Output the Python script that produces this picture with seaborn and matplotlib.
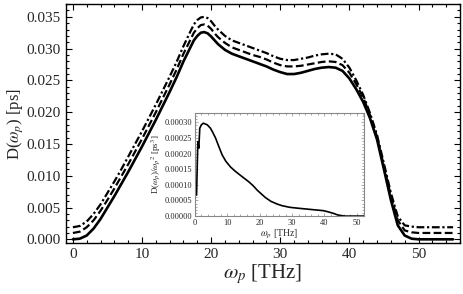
import numpy as np
import pandas as pd
import matplotlib
matplotlib.use("Agg")
import matplotlib.pyplot as plt
from matplotlib.ticker import MultipleLocator
import seaborn as sns

# frequencias (THz)
omega = [0, 1, 2, 3, 4, 5, 6, 7, 8, 9, 10, 11, 12, 13, 14, 15, 16, 17, 17.5, 18, 18.5,
         19, 19.5, 20, 20.5, 21, 22, 23, 24, 25, 26, 27, 28, 29, 30, 31, 32, 33, 34, 35,
         36, 37, 38, 39, 40, 41, 42, 43, 44, 45, 46, 47, 48, 49, 50, 55]

# D(omega) para as tres curvas
d_solid = [0.0000, 0.0001, 0.0006, 0.0017, 0.0032, 0.0050, 0.0068, 0.0087, 0.0106, 0.0126,
           0.0146, 0.0167, 0.0188, 0.0210, 0.0232, 0.0255, 0.0280, 0.0302, 0.0313, 0.0320,
           0.0325, 0.0326, 0.0324, 0.0319, 0.0313, 0.0307, 0.0298, 0.0292, 0.0288, 0.0284,
           0.0280, 0.0276, 0.0272, 0.0267, 0.0263, 0.0260, 0.0260, 0.0262, 0.0265, 0.0268,
           0.0270, 0.0271, 0.0270, 0.0265, 0.0253, 0.0236, 0.0216, 0.0190, 0.0157, 0.0110,
           0.0062, 0.0022, 0.0006, 0.0001, 0.0000, 0.0000]
d_dashed = [0.0010, 0.0012, 0.0019, 0.0030, 0.0045, 0.0062, 0.0080, 0.0099, 0.0118, 0.0138,
            0.0158, 0.0179, 0.0200, 0.0222, 0.0244, 0.0267, 0.0292, 0.0314, 0.0325, 0.0332,
            0.0337, 0.0338, 0.0336, 0.0331, 0.0324, 0.0318, 0.0309, 0.0302, 0.0298, 0.0294,
            0.0290, 0.0287, 0.0283, 0.0278, 0.0274, 0.0272, 0.0272, 0.0273, 0.0275, 0.0277,
            0.0279, 0.0280, 0.0279, 0.0274, 0.0262, 0.0244, 0.0223, 0.0195, 0.0161, 0.0115,
            0.0068, 0.0030, 0.0014, 0.0011, 0.0010, 0.0010]
d_dashdot = [0.0019, 0.0021, 0.0028, 0.0040, 0.0055, 0.0073, 0.0091, 0.0110, 0.0130, 0.0150,
             0.0170, 0.0191, 0.0212, 0.0234, 0.0256, 0.0279, 0.0304, 0.0327, 0.0338, 0.0345,
             0.0349, 0.0350, 0.0348, 0.0343, 0.0336, 0.0330, 0.0320, 0.0313, 0.0309, 0.0305,
             0.0301, 0.0297, 0.0293, 0.0288, 0.0284, 0.0282, 0.0282, 0.0284, 0.0286, 0.0289,
             0.0291, 0.0292, 0.0291, 0.0284, 0.0270, 0.0250, 0.0227, 0.0198, 0.0164, 0.0119,
             0.0073, 0.0036, 0.0022, 0.0020, 0.0019, 0.0019]

# inset: D(omega)/omega^2
omega_in = [0.5, 0.9, 1.2, 1.5, 2.0, 2.6, 3.8, 4.8, 5.5, 6.4, 7.4, 8.4, 9.5, 11.0, 12.5,
            14.1, 16.6, 18.0, 19.2, 20.5, 21.8, 23.5, 25.4, 27.0, 29.4, 32.0, 34.6, 37.0,
            39.7, 41.0, 42.8, 44.0, 45.4, 46.4, 52.0]
d_in = [0.0000673, 0.000238, 0.000217, 0.000281, 0.000292, 0.000297, 0.000292, 0.000281,
        0.000268, 0.000249, 0.000222, 0.000196, 0.000176, 0.000157, 0.000143, 0.000130,
        0.000110, 0.000097, 0.0000833, 0.000071, 0.000059, 0.000047, 0.0000385, 0.000033,
        0.0000279, 0.000025, 0.0000224, 0.000020, 0.0000173, 0.000014, 0.0000087, 0.000004,
        0.0000013, 0.0, 0.0]

sns.set_style("ticks")
plt.rcParams['font.family'] = ['Liberation Serif', 'DejaVu Serif']
plt.rcParams['mathtext.fontset'] = 'stix'
plt.rcParams['xtick.direction'] = 'in'
plt.rcParams['ytick.direction'] = 'in'

fig = plt.figure(figsize=(4.63, 2.94), dpi=100)
ax = fig.add_axes([0.1425, 0.173, 0.851, 0.813])

sns.lineplot(x=omega, y=d_solid, ax=ax, color='black', lw=1.9, linestyle='-')
sns.lineplot(x=omega, y=d_dashed, ax=ax, color='black', lw=1.6, linestyle=(0, (3.5, 1.5)))
sns.lineplot(x=omega, y=d_dashdot, ax=ax, color='black', lw=1.6,
             linestyle=(0, (3.5, 1.2, 1.0, 1.2)))

ax.set_xlim(-1, 56)
ax.set_ylim(-0.0006, 0.037)
ax.xaxis.set_major_locator(MultipleLocator(10))
ax.xaxis.set_minor_locator(MultipleLocator(2))
ax.yaxis.set_major_locator(MultipleLocator(0.005))
ax.yaxis.set_minor_locator(MultipleLocator(0.001))
ax.yaxis.set_major_formatter(plt.FuncFormatter(lambda v, p: f'{v:.3f}'))
ax.tick_params(which='both', top=True, right=True, width=0.8, color='black')
ax.tick_params(which='major', length=4, labelsize=11)
ax.tick_params(which='minor', length=2)
for s in ax.spines.values():
    s.set_linewidth(1.0)
    s.set_color('black')
ax.set_xlabel(r'$\omega_p$ [THz]', fontsize=15, labelpad=1)
ax.set_ylabel(r'D($\omega_p$) [ps]', fontsize=12, labelpad=1)

# inset
axi = fig.add_axes([0.421, 0.265, 0.365, 0.351])
sns.lineplot(x=omega_in, y=d_in, ax=axi, color='black', lw=1.2)
axi.set_xlim(0, 52.2)
axi.set_ylim(0, 0.00033)
axi.xaxis.set_major_locator(MultipleLocator(10))
axi.xaxis.set_minor_locator(MultipleLocator(2))
axi.yaxis.set_major_locator(MultipleLocator(0.00005))
axi.yaxis.set_minor_locator(MultipleLocator(0.00001))
axi.yaxis.set_major_formatter(plt.FuncFormatter(lambda v, p: f'{v:.5f}'))
axi.tick_params(which='both', top=True, right=True, width=0.5, color='#888888')
axi.tick_params(which='major', length=2.5, labelsize=6, pad=2)
axi.tick_params(which='minor', length=1.2)
for s in axi.spines.values():
    s.set_linewidth(0.8)
    s.set_color('#888888')
axi.set_xlabel(r'$\omega_p$ [THz]', fontsize=7, labelpad=1)
axi.set_ylabel(r'D($\omega_p$)/$\omega_p$$^2$ [ps$^3$]', fontsize=6.5, labelpad=1)

fig.savefig('out.png', dpi=100)
